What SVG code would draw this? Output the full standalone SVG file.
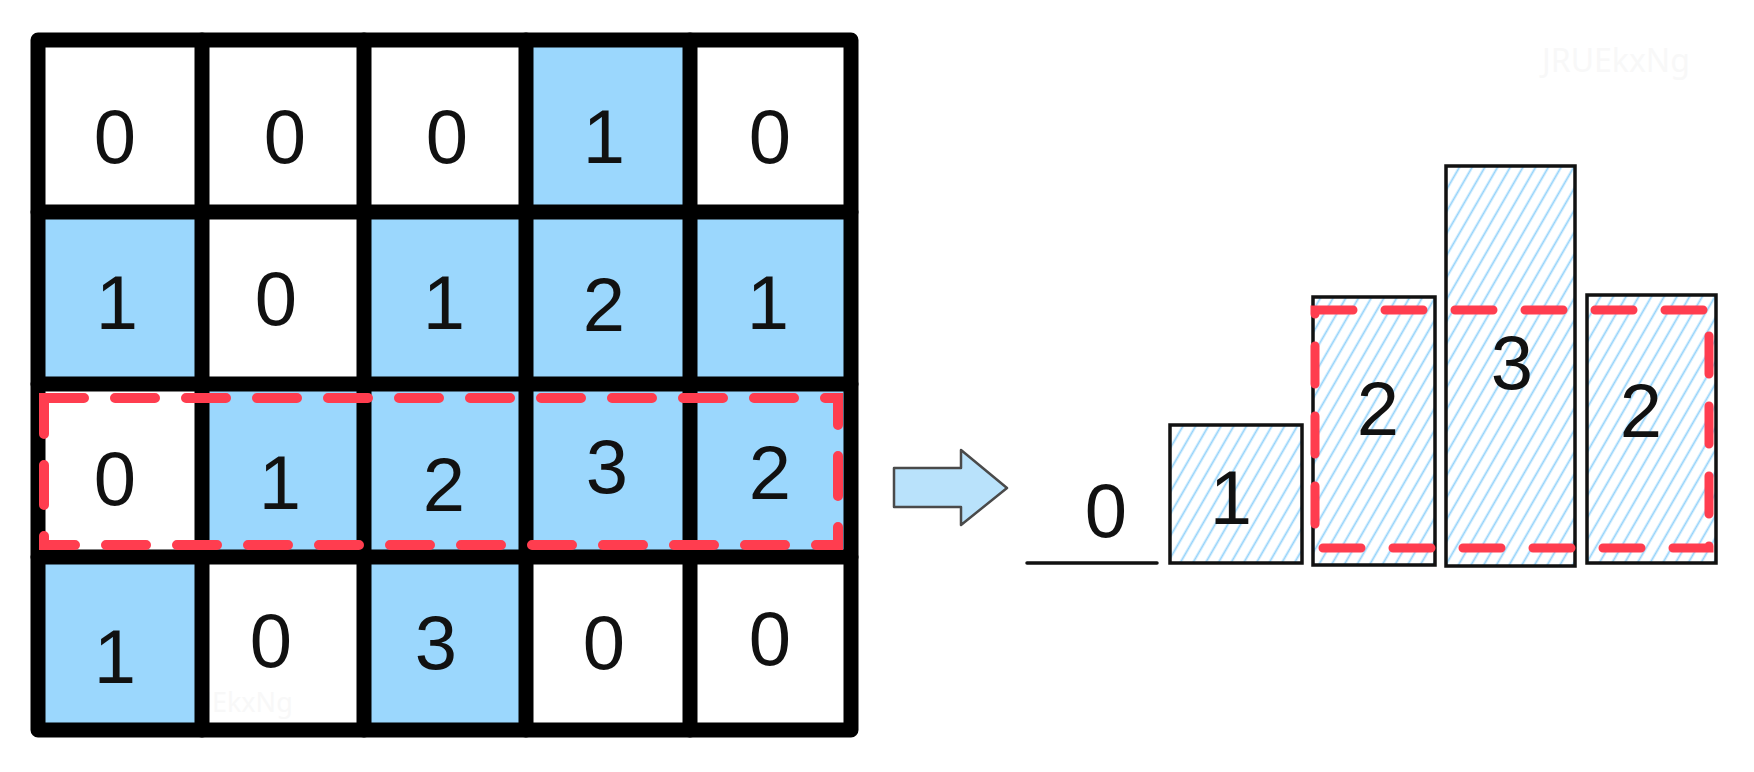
<svg xmlns="http://www.w3.org/2000/svg" width="1754" height="772" viewBox="0 0 1754 772">
<style>
.d{font-family:"Liberation Sans","DejaVu Sans",sans-serif;font-size:76px;fill:#111;text-anchor:middle;dominant-baseline:central}
.blue{fill:#9bd7fd}
.grid{fill:none;stroke:#000;stroke-width:15;stroke-linecap:round;stroke-linejoin:round}
.red{fill:none;stroke:#ff3d4f;stroke-width:10;stroke-dasharray:40 31;stroke-linecap:round}
.redr{fill:none;stroke:#ff3d4f;stroke-width:9;stroke-dasharray:38 32;stroke-linecap:round}
.bar{fill:url(#hatch);stroke:#111;stroke-width:3.5}
.wm{font-family:"Noto Sans",sans-serif;font-size:32px;fill:#f8f8f8}
</style>
<defs>
<pattern id="hatch" patternUnits="userSpaceOnUse" width="11" height="11" patternTransform="rotate(30)">
<rect width="11" height="11" fill="#fff"/>
<line x1="5.5" y1="0" x2="5.5" y2="11" stroke="#93d2fa" stroke-width="1.8"/>
</pattern>
</defs>
<rect width="1754" height="772" fill="#fff"/>
<text class="wm" x="1542" y="72">JRUEkxNg</text>
<text class="wm" x="168" y="712" style="font-size:27px">JRUEkxNg</text>
<g id="cells">
<g id="c00"><text class="d" x="115" y="136">0</text></g>
<g id="c01"><text class="d" x="285" y="136">0</text></g>
<g id="c02"><text class="d" x="447" y="136">0</text></g>
<g id="c03"><rect class="blue" x="526" y="40" width="164" height="172"/><text class="d" x="604" y="136">1</text></g>
<g id="c04"><text class="d" x="770" y="136">0</text></g>
<g id="c10"><rect class="blue" x="38" y="212" width="164" height="172"/><text class="d" x="117" y="302">1</text></g>
<g id="c11"><text class="d" x="276" y="298">0</text></g>
<g id="c12"><rect class="blue" x="364" y="212" width="162" height="172"/><text class="d" x="444" y="302">1</text></g>
<g id="c13"><rect class="blue" x="526" y="212" width="164" height="172"/><text class="d" x="604" y="304">2</text></g>
<g id="c14"><rect class="blue" x="690" y="212" width="161" height="172"/><text class="d" x="768" y="302">1</text></g>
<g id="c20"><text class="d" x="115" y="478">0</text></g>
<g id="c21"><rect class="blue" x="202" y="384" width="162" height="173"/><text class="d" x="280" y="482">1</text></g>
<g id="c22"><rect class="blue" x="364" y="384" width="162" height="173"/><text class="d" x="444" y="484">2</text></g>
<g id="c23"><rect class="blue" x="526" y="384" width="164" height="173"/><text class="d" x="607" y="466">3</text></g>
<g id="c24"><rect class="blue" x="690" y="384" width="161" height="173"/><text class="d" x="770" y="472">2</text></g>
<g id="c30"><rect class="blue" x="38" y="557" width="164" height="173"/><text class="d" x="115" y="656">1</text></g>
<g id="c31"><text class="d" x="271" y="640">0</text></g>
<g id="c32"><rect class="blue" x="364" y="557" width="162" height="173"/><text class="d" x="436" y="642">3</text></g>
<g id="c33"><text class="d" x="604" y="642">0</text></g>
<g id="c34"><text class="d" x="770" y="638">0</text></g>
</g>
<g id="gridlines">
<rect class="grid" x="38" y="40" width="813" height="690"/>
<path class="grid" d="M202 40V730M364 40V730M526 40V730M690 40V730M38 212H851M38 384H851M38 557H851"/>
</g>
<g id="highlight-row">
<rect class="red" x="44" y="398" width="794" height="147"/>
</g>
<g id="connectors">
<polygon points="894,468 961,468 961,450 1007,488 961,525 961,507 894,507" fill="#b9e2fb" stroke="#4a4a4a" stroke-width="2.5" stroke-linejoin="round"/>
</g>
<g id="bar0">
<line x1="1027" y1="563" x2="1157" y2="563" stroke="#111" stroke-width="3.5" stroke-linecap="round"/>
<text class="d" x="1106" y="510">0</text>
</g>
<g id="bar1"><rect class="bar" x="1170" y="425" width="132" height="138"/><text class="d" x="1231" y="497">1</text></g>
<g id="bar2"><rect class="bar" x="1313" y="297" width="122" height="268"/><text class="d" x="1378" y="408">2</text></g>
<g id="bar3"><rect class="bar" x="1446" y="166" width="129" height="400"/><text class="d" x="1512" y="362">3</text></g>
<g id="bar4"><rect class="bar" x="1587" y="295" width="129" height="268"/><text class="d" x="1641" y="410">2</text></g>
<g id="highlight-bars">
<rect class="redr" x="1315" y="310" width="394" height="238"/>
</g>
</svg>
